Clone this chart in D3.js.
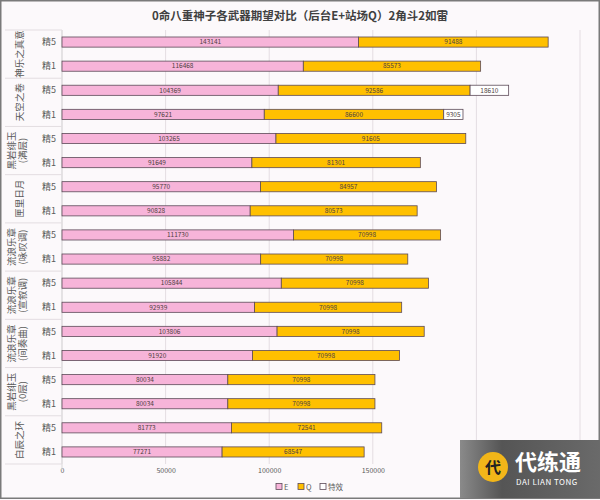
<!DOCTYPE html>
<html><head><meta charset="utf-8">
<script src="https://cdn.jsdelivr.net/npm/d3@7"></script>
<style>html,body{margin:0;padding:0;background:#fff;}svg{display:block;}</style>
</head><body>
<svg id="c" width="600" height="500"></svg>
<script>
const groups = ["神乐之真意","天空之卷","黑岩绯玉\n(满层)","匣里日月","流浪乐章\n(咏叹调)","流浪乐章\n(宣叙调)","流浪乐章\n(间奏曲)","黑岩绯玉\n(0层)","白辰之环"];
const refines = ["精5","精1"];
const eValues = [143141,116468,104369,97621,103265,91649,95770,90828,111730,95882,105844,92939,103806,91920,80034,80034,81773,77271];
const qValues = [91488,85573,92586,86600,91605,81301,84957,80573,70998,70998,70998,70998,70998,70998,70998,70998,72541,68547];
const fxValues = [0,0,18610,9305,0,0,0,0,0,0,0,0,0,0,0,0,0,0];
const seriesNames = ["E","Q","特效"];
const xTicks = [0,50000,100000,150000,200000,250000];
const title = "0命八重神子各武器期望对比（后台E+站场Q）2角斗2如雷";

(function(){
const font = "'Noto Sans CJK SC','Noto Sans',sans-serif";
const colors = ["#f7b4d9","#ffc000","#ffffff"];
const svg = d3.select("#c");
svg.append("rect").attr("x",0).attr("y",0).attr("width",600).attr("height",500).attr("fill","#fcf9fb");
svg.append("rect").attr("x",0.75).attr("y",0.75).attr("width",598.5).attr("height",497.5).attr("fill","none").attr("stroke","#7a7a7a").attr("stroke-width",1.5);

const rows = [];
groups.forEach((g,gi)=>refines.forEach((r,ri)=>rows.push({g:gi,r:r,i:gi*2+ri})));
const mLeft = 62, mRight = 580, mTop = 30, mBottom = 464;
const x = d3.scaleLinear().domain([0,250000]).range([mLeft,mRight]);
const y = d3.scaleBand().domain(rows.map(d=>d.i)).range([mTop,mBottom]).paddingInner(0.58).paddingOuter(0.29);
const gy = d3.scaleBand().domain(groups.map((d,i)=>i)).range([mTop,mBottom]);

svg.append("text").attr("x",300).attr("y",20).attr("text-anchor","middle").attr("font-family",font).attr("font-size",11.5).attr("font-weight","bold").attr("fill","#404040").text(title);

svg.append("g").selectAll("line").data(xTicks).join("line")
 .attr("x1",d=>x(d)).attr("x2",d=>x(d)).attr("y1",mTop).attr("y2",mBottom)
 .attr("stroke","#e4dde2").attr("stroke-width",1);
const ax = d3.axisBottom(x).tickValues(xTicks).tickSize(0).tickFormat(d3.format("d"));
const axg = svg.append("g").attr("transform",`translate(0,${mBottom})`).call(ax);
axg.select(".domain").remove();
axg.selectAll("text").attr("font-family",font).attr("font-size",7).attr("fill","#595959").attr("dy","0.9em");

svg.append("line").attr("x1",mLeft).attr("x2",mLeft).attr("y1",mTop).attr("y2",mBottom+6).attr("stroke","#d9d9d9");
svg.append("g").selectAll("line").data(d3.range(groups.length+1)).join("line")
 .attr("x1",5).attr("x2",mLeft).attr("y1",d=>d<groups.length?gy(d):mBottom).attr("y2",d=>d<groups.length?gy(d):mBottom)
 .attr("stroke","#e3dde1");

svg.append("g").selectAll("text").data(rows).join("text")
 .attr("x",49).attr("y",d=>y(d.i)+y.bandwidth()/2).attr("dy","0.35em").attr("text-anchor","middle")
 .attr("font-family",font).attr("font-size",9).attr("fill","#595959").text(d=>d.r);

groups.forEach((g,gi)=>{
  const lines = g.split("\n");
  const cy = gy(gi)+gy.bandwidth()/2;
  const t = svg.append("text").attr("transform",`translate(${lines.length>1?16:20},${cy}) rotate(-90)`)
    .attr("text-anchor","middle").attr("font-family",font).attr("font-size",9.5).attr("fill","#595959");
  lines.forEach((l,li)=>{
    t.append("tspan").attr("x",0).attr("dy", li===0 ? (lines.length>1?"-0.15em":"0.35em") : "1.25em").text(l);
  });
});

const stacks = rows.map(d=>{
  const vals=[eValues[d.i],qValues[d.i],fxValues[d.i]];
  let s=0; return vals.map((v,k)=>{const o={i:d.i,k:k,v:v,x0:s,x1:s+v}; s+=v; return o;});
}).flat().filter(d=>d.v>0);
const bars = svg.append("g");
bars.selectAll("rect").data(stacks).join("rect")
 .attr("x",d=>x(d.x0)).attr("width",d=>x(d.x1)-x(d.x0))
 .attr("y",d=>y(d.i)).attr("height",y.bandwidth())
 .attr("fill",d=>colors[d.k]).attr("stroke","#5c4a58").attr("stroke-width",0.8);
bars.selectAll("text").data(stacks).join("text")
 .attr("x",d=>(x(d.x0)+x(d.x1))/2).attr("y",d=>y(d.i)+y.bandwidth()/2).attr("dy","0.35em")
 .attr("text-anchor","middle").attr("font-family",font).attr("font-size",6.5).attr("fill","#4d4040").text(d=>d.v);

const lg = svg.append("g").attr("transform","translate(276,487)");
let lx=0;
seriesNames.forEach((n,k)=>{
  lg.append("rect").attr("x",lx).attr("y",-3.5).attr("width",6).attr("height",6).attr("fill",colors[k]).attr("stroke","#5c4a58").attr("stroke-width",0.8);
  lg.append("text").attr("x",lx+8).attr("y",0).attr("dy","0.35em").attr("font-family",font).attr("font-size",7.5).attr("fill","#595959").text(n);
  lx += 8 + (n.length>1?22:8) + 6;
});

const defs = svg.append("defs");
const grad = defs.append("linearGradient").attr("id","wm").attr("x1","0").attr("x2","1");
grad.append("stop").attr("offset","0").attr("stop-color","#8a8a8a");
grad.append("stop").attr("offset","0.3").attr("stop-color","#555");
grad.append("stop").attr("offset","1").attr("stop-color","#6a6a6a");
svg.append("rect").attr("x",460).attr("y",440).attr("width",140).attr("height",58).attr("fill","url(#wm)");
svg.append("circle").attr("cx",493).attr("cy",467).attr("r",15).attr("fill","#f2b619");
svg.append("text").attr("x",493).attr("y",473).attr("text-anchor","middle").attr("font-family",font).attr("font-size",16).attr("font-weight","bold").attr("fill","#222").text("代");
svg.append("text").attr("x",515).attr("y",470).attr("font-family",font).attr("font-size",22).attr("font-weight","bold").attr("fill","#fff").text("代练通");
svg.append("text").attr("x",516).attr("y",485).attr("font-family",font).attr("font-size",8).attr("fill","#fff").attr("letter-spacing","0.5").text("DAI LIAN TONG");
})();
</script>
</body></html>
